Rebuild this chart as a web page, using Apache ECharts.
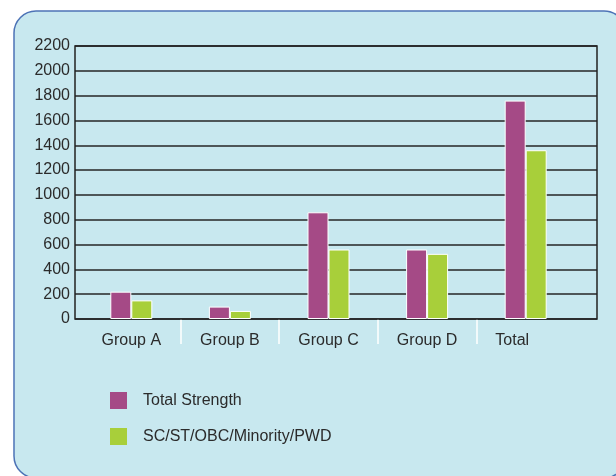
<!DOCTYPE html>
<html>
<head>
<meta charset="utf-8">
<script src="https://cdn.jsdelivr.net/npm/echarts@6/dist/echarts.min.js"></script>
<style>
html,body{margin:0;padding:0;background:#ffffff;}
#chart{width:616px;height:476px;}
</style>
</head>
<body>
<div id="chart"></div>
<script>
const categories = ['Group A', 'Group B', 'Group C', 'Group D', 'Total'];
const totalStrength = [220, 100, 860, 560, 1760];
const reservedCategories = [150, 65, 560, 525, 1360];
const seriesNames = ['Total Strength', 'SC/ST/OBC/Minority/PWD'];
const yTicks = { min: 0, max: 2200, interval: 200 };
// boundaries between neighbouring categories (white separators under the axis)
const separators = categories.slice(1).map(function (_, i) { return i + 1; });

const FONT = 'Liberation Sans, Arial, sans-serif';
const TEXT = '#2b2b2b';
const FS = 16;
const chart = echarts.init(document.getElementById('chart'), null, { renderer: 'canvas' });

chart.setOption({
  backgroundColor: '#ffffff',
  animation: false,
  textStyle: { fontFamily: FONT },
  graphic: [{
    type: 'rect',
    z: -10,
    silent: true,
    shape: { x: 14, y: 11, width: 612, height: 467, r: 22 },
    style: { fill: '#c8e8ef', stroke: '#4d73b6', lineWidth: 1.5 }
  }],
  legend: {
    orient: 'vertical',
    left: 110,
    top: 392,
    padding: 0,
    itemWidth: 17,
    itemHeight: 17,
    itemGap: 19,
    icon: 'rect',
    itemStyle: { borderWidth: 0 },
    textStyle: { fontFamily: FONT, fontSize: FS, color: TEXT, padding: [0, 0, 0, 11] },
    data: seriesNames
  },
  grid: [
    { left: 82, right: 41, top: 46, bottom: 157, show: false },
    { left: 75, right: 19, top: 46, bottom: 157, show: true, borderColor: '#222', borderWidth: 1.5, backgroundColor: 'transparent', z: 1 },
    { left: 82, right: 41, top: 46, bottom: 157, show: false }
  ],
  xAxis: [
    {
      type: 'category',
      gridIndex: 0,
      data: categories,
      offset: 4,
      axisLine: { show: false },
      axisTick: { show: false },
      axisLabel: {
        margin: 10,
        fontFamily: FONT,
        fontSize: FS,
        color: TEXT,
        formatter: function (v, i) { return i === categories.length - 1 ? '{t|' + v + '}' : v; },
        rich: { t: { fontFamily: FONT, fontSize: FS, color: TEXT, padding: [0, 27, 0, 0] } }
      }
    },
    {
      type: 'value',
      gridIndex: 1,
      show: false
    },
    {
      type: 'value',
      gridIndex: 2,
      min: 0, max: categories.length, interval: 1,
      offset: 4,
      axisLine: { show: false },
      axisLabel: { show: false },
      splitLine: { show: false },
      axisTick: {
        show: true,
        length: 25,
        customValues: separators,
        lineStyle: { color: '#ffffff', width: 1.5 }
      }
    }
  ],
  yAxis: [
    {
      type: 'value',
      gridIndex: 0,
      min: yTicks.min, max: yTicks.max, interval: yTicks.interval,
      show: false
    },
    {
      type: 'value',
      gridIndex: 1,
      min: yTicks.min, max: yTicks.max, interval: yTicks.interval,
      axisLine: { show: false },
      axisTick: { show: false },
      splitLine: { show: true, lineStyle: { color: '#262626', width: 1.5 } },
      axisLabel: { margin: 5, fontFamily: FONT, fontSize: FS, color: TEXT, formatter: function (v) { return String(v); } }
    },
    {
      type: 'value',
      gridIndex: 2,
      show: false
    }
  ],
  series: [
    {
      name: seriesNames[0],
      type: 'bar',
      xAxisIndex: 0, yAxisIndex: 0,
      data: totalStrength,
      barWidth: 21,
      barGap: '0%',
      z: 3,
      itemStyle: { color: '#a54a86', borderColor: '#ffffff', borderWidth: 1 }
    },
    {
      name: seriesNames[1],
      type: 'bar',
      xAxisIndex: 0, yAxisIndex: 0,
      data: reservedCategories,
      barWidth: 21,
      barGap: '0%',
      z: 3,
      itemStyle: { color: '#a8cf3a', borderColor: '#ffffff', borderWidth: 1 }
    }
  ]
});
</script>
</body>
</html>
